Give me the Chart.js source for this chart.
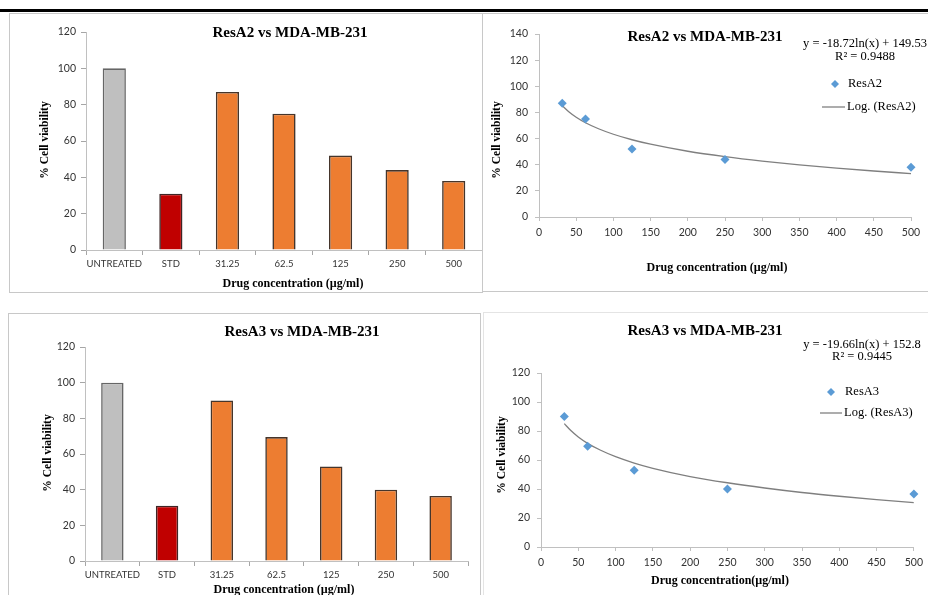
<!DOCTYPE html>
<html>
<head>
<meta charset="utf-8">
<script src="https://cdn.jsdelivr.net/npm/chart.js@4.4.1/dist/chart.umd.min.js"></script>
<style>
  html, body { margin: 0; padding: 0; background: #fff; }
  body { width: 928px; height: 595px; position: relative; overflow: hidden; }
  .rule { position: absolute; left: 0; top: 9px; width: 928px; height: 3px; background: #000; }
  .panel { position: absolute; border: 1px solid #c8c8c8; box-sizing: border-box; }
  canvas { position: absolute; }
</style>
</head>
<body>
<div class="rule"></div>
<div class="panel" style="left:9px;top:13px;width:474px;height:280px"></div>
<div class="panel" style="left:482px;top:13px;width:460px;height:279px"></div>
<div class="panel" style="left:8px;top:313px;width:473px;height:300px"></div>
<div class="panel" style="left:483px;top:312px;width:460px;height:300px;border-color:#e4e4e4"></div>

<canvas id="barA2"></canvas>
<canvas id="sctA2"></canvas>
<canvas id="barA3"></canvas>
<canvas id="sctA3"></canvas>

<script>
// ── datos ──
const categorias = ['UNTREATED', 'STD', '31.25', '62.5', '125', '250', '500'];
const viabilidadA2 = [100, 31, 87, 75, 52, 44, 38];
const viabilidadA3 = [100, 31, 90, 69.5, 53, 40, 36.5];

const concentraciones = [31.25, 62.5, 125, 250, 500];
const puntosA2 = [87, 75, 52, 44, 38];
const puntosA3 = [90, 69.5, 53, 40, 36.5];

// curva de tendencia logarítmica (leída sobre la línea gris)
const tendenciaX = [31.25, 40, 50, 62.5, 80, 100, 125, 150, 200, 250, 300, 350, 400, 450, 500];
const tendenciaA2 = [85.1, 80.5, 76.3, 72.1, 67.5, 63.3, 59.1, 55.7, 50.3, 46.2, 42.8, 39.9, 37.4, 35.2, 33.2];
const tendenciaA3 = [85.1, 80.3, 75.9, 71.5, 66.7, 62.3, 57.9, 54.3, 48.6, 44.3, 40.7, 37.6, 35.0, 32.7, 30.6];

const ticksX = [0, 50, 100, 150, 200, 250, 300, 350, 400, 450, 500];

// Paleta
const COL_BARRAS = ['#bfbfbf', '#c00000', '#ed7d31', '#ed7d31', '#ed7d31', '#ed7d31', '#ed7d31'];
const COL_BORDE = ['#666666', '#3f2525', '#45352b', '#45352b', '#45352b', '#45352b', '#45352b'];
const AZUL = '#5b9bd5';
const GRIS_EJE = '#c0c0c0';
const TXT = '#333333';
const SERIF = '"Liberation Serif", "Times New Roman", serif';
const SANS = 'Lato, "Open Sans", sans-serif';

function prepCanvas(id, box) {
  const c = document.getElementById(id);
  c.width = box.width;
  c.height = box.height;
  c.style.left = box.left + 'px';
  c.style.top = box.top + 'px';
  c.style.width = box.width + 'px';
  c.style.height = box.height + 'px';
  return c;
}

// fija el área del gráfico en coordenadas de página
function ajuste(box, plot) {
  return {
    yWidth: plot.left - box.left,
    xHeight: box.top + box.height - plot.bottom,
    padding: { top: plot.top - box.top, right: box.left + box.width - plot.right, left: 0, bottom: 0 }
  };
}

// textos, leyenda y títulos dibujados encima
function overlay(box, items) {
  return {
    id: 'overlay',
    afterDraw(chart) {
      const ctx = chart.ctx;
      ctx.save();
      for (const it of items) {
        const x = it.x - box.left, y = it.y - box.top;
        if (it.kind === 'diamond') {
          ctx.fillStyle = AZUL;
          ctx.beginPath();
          ctx.moveTo(x, y - 4); ctx.lineTo(x + 4, y); ctx.lineTo(x, y + 4); ctx.lineTo(x - 4, y);
          ctx.closePath(); ctx.fill();
        } else if (it.kind === 'line') {
          ctx.strokeStyle = '#808080'; ctx.lineWidth = 1.3;
          ctx.beginPath(); ctx.moveTo(x, y); ctx.lineTo(it.x2 - box.left, y); ctx.stroke();
        } else {
          ctx.font = it.font;
          ctx.fillStyle = it.color || '#000';
          ctx.textAlign = it.align || 'center';
          ctx.textBaseline = 'middle';
          ctx.save();
          ctx.translate(x, y);
          if (it.rot) ctx.rotate(it.rot);
          ctx.fillText(it.text, 0, 0);
          ctx.restore();
        }
      }
      ctx.restore();
    }
  };
}

function chartBarras(id, box, plot, valores, textos) {
  const f = ajuste(box, plot);
  return new Chart(prepCanvas(id, box), {
    type: 'bar',
    data: {
      labels: categorias,
      datasets: [{
        data: valores,
        backgroundColor: COL_BARRAS,
        borderColor: COL_BORDE,
        borderWidth: 1.6,
        barPercentage: 0.41,
        categoryPercentage: 1.0
      }]
    },
    options: {
      responsive: false,
      animation: false,
      devicePixelRatio: 1,
      layout: { padding: f.padding },
      plugins: { legend: { display: false }, tooltip: { enabled: false } },
      scales: {
        x: {
          grid: { offset: true, drawOnChartArea: false, tickLength: 5, color: '#a6a6a6' },
          border: { color: GRIS_EJE },
          ticks: { font: { family: SANS, size: 9.5 }, color: TXT, padding: 3, maxRotation: 0, autoSkip: false },
          afterFit: (s) => { s.height = f.xHeight; }
        },
        y: {
          min: 0, max: 120,
          grid: { drawOnChartArea: false, tickLength: 5, color: '#a6a6a6' },
          border: { color: GRIS_EJE },
          ticks: { stepSize: 20, font: { family: SANS, size: 10.5 }, color: TXT, padding: 5 },
          afterFit: (s) => { s.width = f.yWidth; }
        }
      }
    },
    plugins: [overlay(box, textos)]
  });
}

function chartDispersion(id, box, plot, puntos, tendencia, ymax, textos) {
  const f = ajuste(box, plot);
  return new Chart(prepCanvas(id, box), {
    type: 'scatter',
    data: {
      datasets: [
        {
          data: concentraciones.map((x, i) => ({ x, y: puntos[i] })),
          pointStyle: 'rectRot',
          pointRadius: 4.5,
          backgroundColor: AZUL,
          borderColor: AZUL,
          borderWidth: 0,
          clip: false,
          order: 0
        },
        {
          type: 'line',
          data: tendenciaX.map((x, i) => ({ x, y: tendencia[i] })),
          borderColor: '#7f7f7f',
          borderWidth: 1.3,
          pointRadius: 0,
          fill: false,
          cubicInterpolationMode: 'monotone',
          order: 1
        }
      ]
    },
    options: {
      responsive: false,
      animation: false,
      devicePixelRatio: 1,
      layout: { padding: f.padding },
      plugins: { legend: { display: false }, tooltip: { enabled: false } },
      scales: {
        x: {
          type: 'linear', min: 0, max: 500,
          afterBuildTicks: (s) => { s.ticks = ticksX.map((v) => ({ value: v })); },
          grid: { drawOnChartArea: false, tickLength: 4, color: GRIS_EJE },
          border: { color: GRIS_EJE },
          ticks: { font: { family: SANS, size: 10.5 }, color: TXT, padding: 5, maxRotation: 0 },
          afterFit: (s) => { s.height = f.xHeight; }
        },
        y: {
          min: 0, max: ymax,
          grid: { drawOnChartArea: false, tickLength: 4, color: GRIS_EJE },
          border: { color: GRIS_EJE },
          ticks: { stepSize: 20, font: { family: SANS, size: 10.5 }, color: TXT, padding: 7 },
          afterFit: (s) => { s.width = f.yWidth; }
        }
      }
    },
    plugins: [overlay(box, textos)]
  });
}

const FT = 'bold 15px ' + SERIF;
const FX = 'bold 12px ' + SERIF;
const FY = 'bold 11.5px ' + SERIF;
const FE = '12.5px ' + SERIF;
const FL = '12.5px ' + SERIF;
const V = -Math.PI / 2;

chartBarras('barA2',
  { left: 10, top: 14, width: 472, height: 278 },
  { left: 86, top: 32, right: 482, bottom: 250 },
  viabilidadA2,
  [
    { text: 'ResA2 vs MDA-MB-231', x: 290, y: 33, font: FT },
    { text: 'Drug concentration (µg/ml)', x: 293, y: 284, font: FX },
    { text: '% Cell viability', x: 45, y: 140, font: FY, rot: V }
  ]);

chartDispersion('sctA2',
  { left: 483, top: 14, width: 445, height: 277 },
  { left: 539, top: 34, right: 911, bottom: 217 },
  puntosA2, tendenciaA2, 140,
  [
    { text: 'ResA2 vs MDA-MB-231', x: 705, y: 37, font: FT },
    { text: 'y = -18.72ln(x) + 149.53', x: 865, y: 44, font: FE },
    { text: 'R² = 0.9488', x: 865, y: 57, font: FE },
    { kind: 'diamond', x: 835, y: 84 },
    { text: 'ResA2', x: 848, y: 84, font: FL, align: 'left' },
    { kind: 'line', x: 822, x2: 845, y: 107 },
    { text: 'Log. (ResA2)', x: 847, y: 107, font: FL, align: 'left' },
    { text: 'Drug concentration (µg/ml)', x: 717, y: 268, font: FX },
    { text: '% Cell viability', x: 497, y: 140, font: FY, rot: V }
  ]);

chartBarras('barA3',
  { left: 9, top: 314, width: 471, height: 281 },
  { left: 85, top: 347, right: 468, bottom: 561 },
  viabilidadA3,
  [
    { text: 'ResA3 vs MDA-MB-231', x: 302, y: 332, font: FT },
    { text: 'Drug concentration (µg/ml)', x: 284, y: 590, font: FX },
    { text: '% Cell viability', x: 48, y: 453, font: FY, rot: V }
  ]);

chartDispersion('sctA3',
  { left: 484, top: 313, width: 444, height: 282 },
  { left: 541, top: 373, right: 914, bottom: 547 },
  puntosA3, tendenciaA3, 120,
  [
    { text: 'ResA3 vs MDA-MB-231', x: 705, y: 331, font: FT },
    { text: 'y = -19.66ln(x) + 152.8', x: 862, y: 345, font: FE },
    { text: 'R² = 0.9445', x: 862, y: 357, font: FE },
    { kind: 'diamond', x: 831, y: 392 },
    { text: 'ResA3', x: 845, y: 392, font: FL, align: 'left' },
    { kind: 'line', x: 820, x2: 842, y: 413 },
    { text: 'Log. (ResA3)', x: 844, y: 413, font: FL, align: 'left' },
    { text: 'Drug concentration(µg/ml)', x: 720, y: 581, font: FX },
    { text: '% Cell viability', x: 502, y: 455, font: FY, rot: V }
  ]);
</script>
</body>
</html>
